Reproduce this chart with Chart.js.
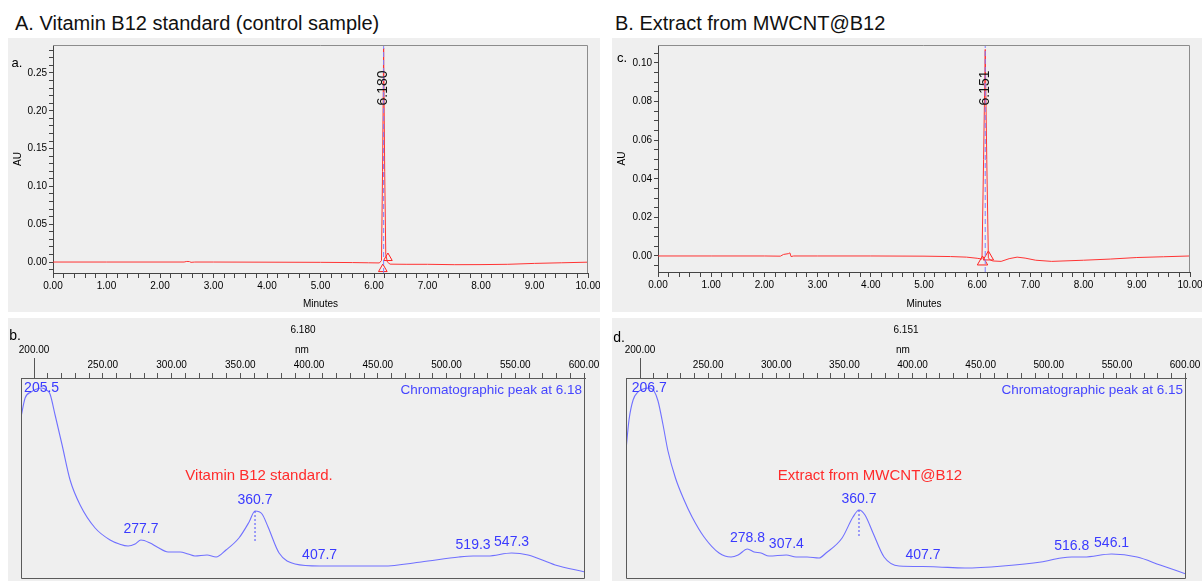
<!DOCTYPE html>
<html>
<head>
<meta charset="utf-8">
<script src="https://cdn.jsdelivr.net/npm/chart.js@4.4.1/dist/chart.umd.min.js"></script>
<style>
  body { margin: 0; background: #fff; width: 1202px; height: 581px; overflow: hidden; position: relative;
         font-family: "Liberation Sans", Arial, sans-serif; }
  .ttl { position: absolute; top: 13px; font-size: 20px; line-height: 20px; color: #111; white-space: nowrap; }
  .pnl { position: absolute; background: #efefef; }
  .pnl canvas { display: block; }
</style>
</head>
<body>
<div class="ttl" style="left:15px">A. Vitamin B12 standard (control sample)</div>
<div class="ttl" style="left:615px">B. Extract from MWCNT@B12</div>
<div class="pnl" style="left:8px;top:38px;width:592px;height:274px"><canvas id="chromA"></canvas></div>
<div class="pnl" style="left:612px;top:38px;width:590px;height:274px"><canvas id="chromC"></canvas></div>
<div class="pnl" style="left:8px;top:318px;width:592px;height:263px"><canvas id="specB"></canvas></div>
<div class="pnl" style="left:612px;top:318px;width:590px;height:263px"><canvas id="specD"></canvas></div>

<script>
// ---- chromatogram a (vitamin B12 standard) ----
var timeA = [0, 1.0, 2.0, 2.45, 2.5, 2.55, 2.58, 2.65, 3.0, 4.0, 5.0, 5.6, 5.9, 6.1, 6.14, 6.16, 6.18, 6.20, 6.22, 6.25, 6.3, 6.6, 7.0, 7.5, 8.0, 8.5, 9.0, 9.5, 10.0];
var auA = [0, 0, 0, 0, 0.0008, 0.0006, -0.0004, 0, 0, -0.0002, -0.0004, -0.0007, -0.001, -0.0012, 0.002, 0.12, 0.283, 0.12, 0.01, 0.0, -0.0028, -0.003, -0.003, -0.0035, -0.0034, -0.003, -0.0018, -0.001, -0.0002];
var rtA = 6.180;
var marksA = [[6.165, -0.0093], [6.26, 0.0053]]; // peak start / end triangles
var auTicksA = [0.00, 0.05, 0.10, 0.15, 0.20, 0.25];

// ---- chromatogram c (extract from MWCNT@B12) ----
var timeC = [0, 1.0, 2.0, 2.3, 2.36, 2.45, 2.48, 2.5, 2.55, 3.0, 4.0, 5.0, 5.5, 5.8, 6.0, 6.09, 6.12, 6.151, 6.18, 6.21, 6.25, 6.3, 6.45, 6.6, 6.75, 6.9, 7.1, 7.4, 8.0, 8.5, 9.0, 9.5, 10.0];
var auC = [0, 0, 0, -0.0001, 0.0008, 0.0012, 0.0016, -0.0003, 0, 0, 0, -0.0001, -0.0003, -0.0006, -0.0012, -0.0016, 0.05, 0.107, 0.05, -0.001, -0.0022, -0.0026, -0.0028, -0.0014, -0.0006, -0.0011, -0.0022, -0.0028, -0.0022, -0.0016, -0.0008, -0.0004, 0];
var rtC = 6.151;
var marksC = [[6.10, -0.0031], [6.21, -0.0005]];
var auTicksC = [0.00, 0.02, 0.04, 0.06, 0.08, 0.10];

var minuteTicks = [0, 1, 2, 3, 4, 5, 6, 7, 8, 9, 10];

// ---- UV spectrum b (peak at 6.180) ----
var nmB = [190.5, 193.5, 197.8, 202, 205.5, 209, 211.6, 215.3, 220.4, 226.2, 233.5, 244.4, 255.3, 262, 268.4, 273.5, 277.7, 284.4, 289.5, 297.5, 306.2, 312, 317, 325.8, 332.4, 339.6, 349, 356.4, 360.7, 365.8, 370.2, 378.2, 389.8, 407.7, 425.5, 453.8, 481.5, 509, 519.3, 530, 547.3, 559.3, 579, 600.7];
var absB = [164, 183, 189, 192, 193, 191, 187, 166, 136, 101, 76, 53, 41, 37, 35, 37, 41, 38, 34, 29, 29, 27, 25, 26, 24, 31, 43, 59, 70, 67, 54, 28, 17, 15, 15, 15, 19, 24, 25, 25, 28, 26, 16, 9];
var peaksB = [205.5, 277.7, 360.7, 407.7, 519.3, 547.3];
var dropB = 39;

// ---- UV spectrum d (peak at 6.151) ----
var nmD = [189.7, 191.9, 194.9, 198.5, 202.2, 206.7, 210.3, 213.2, 216.9, 220.5, 226, 232, 238.2, 247, 258, 266.8, 272, 278.8, 283.7, 288.8, 294.7, 307.4, 314.5, 322.6, 331.4, 336.5, 348.3, 356.3, 360.7, 365.1, 371, 379.1, 390.1, 407.7, 418.7, 438.5, 466.4, 494.3, 509, 516.8, 525.9, 546.1, 564.8, 581.7, 600.7];
var absD = [131, 161, 181, 189, 192, 193, 190, 180, 156, 130, 103, 82, 64, 44, 28, 24, 26, 32, 29, 28, 25, 26, 24, 24, 23, 28, 43, 64, 71, 66, 48, 24, 15, 14.5, 14, 13, 15, 19, 23, 24, 24, 27, 24, 16, 7];
var peaksD = [206.7, 278.8, 307.4, 360.7, 407.7, 516.8, 546.1];
var dropD = 43;

var nmTicks = [200, 250, 300, 350, 400, 450, 500, 550, 600];

var FONT = '"Liberation Sans", Arial, sans-serif';
Chart.defaults.font.family = FONT;
Chart.defaults.color = '#000';
Chart.defaults.animation = false;

function toPts(xs, ys) {
  return xs.map(function (x, i) { return { x: x, y: ys[i] }; });
}

function interp(xs, ys, x) {
  for (var i = 1; i < xs.length; i++) {
    if (x <= xs[i]) {
      var t = (x - xs[i - 1]) / (xs[i] - xs[i - 1]);
      return ys[i - 1] + t * (ys[i] - ys[i - 1]);
    }
  }
  return ys[ys.length - 1];
}

function subdivide(majors, n) {
  var out = [];
  for (var i = 0; i < majors.length - 1; i++) {
    var step = (majors[i + 1] - majors[i]) / n;
    for (var k = 0; k < n; k++) out.push(+(majors[i] + k * step).toFixed(6));
  }
  out.push(majors[majors.length - 1]);
  return out;
}

function isIn(list, v) {
  return list.some(function (m) { return Math.abs(m - v) < 1e-7; });
}

// box around plot area
var framePlugin = {
  id: 'frame',
  afterDraw: function (chart, args, opts) {
    var a = chart.chartArea, ctx = chart.ctx;
    ctx.save();
    ctx.strokeStyle = opts.color || '#888';
    ctx.lineWidth = 1;
    ctx.beginPath();
    if (opts.full) {
      ctx.rect(a.left + 0.5, a.top + 0.5, a.right - a.left - 1, a.bottom - a.top - 1);
    } else {
      ctx.moveTo(a.left, a.top + 0.5);
      ctx.lineTo(a.right - 0.5, a.top + 0.5);
      ctx.lineTo(a.right - 0.5, a.bottom);
    }
    ctx.stroke();
    if (opts.longTick !== undefined) {
      var x = Math.round(chart.scales.x.getPixelForValue(opts.longTick)) + 0.5;
      ctx.strokeStyle = '#555';
      ctx.beginPath();
      ctx.moveTo(x, a.top - 20);
      ctx.lineTo(x, a.top);
      ctx.stroke();
    }
    ctx.restore();
  }
};

// texts: fixed or tied to data values
var notesPlugin = {
  id: 'notes',
  afterDraw: function (chart, args, opts) {
    var ctx = chart.ctx, a = chart.chartArea;
    (opts.items || []).forEach(function (it) {
      var x = it.xv !== undefined ? chart.scales.x.getPixelForValue(it.xv) : it.x;
      var y = it.yv !== undefined ? chart.scales.y.getPixelForValue(it.yv) : it.y;
      if (it.fromTop !== undefined) y = a.top + it.fromTop;
      if (it.fromRight !== undefined) x = a.right - it.fromRight;
      x += it.dx || 0;
      y += it.dy || 0;
      if (it.minTop !== undefined) y = Math.max(y, a.top + it.minTop);
      ctx.save();
      ctx.translate(x, y);
      if (it.rot) ctx.rotate(it.rot);
      ctx.font = it.font;
      ctx.fillStyle = it.color || '#000';
      ctx.textAlign = it.align || 'center';
      ctx.textBaseline = 'middle';
      ctx.fillText(it.text, 0, 0);
      ctx.restore();
    });
  }
};

function chromatogram(id, c) {
  var minor = subdivide(minuteTicks, 5);
  var yMinor = subdivide([c.auTicks[0] - (c.auTicks[1] - c.auTicks[0])].concat(c.auTicks, [c.auTicks[c.auTicks.length - 1] + (c.auTicks[1] - c.auTicks[0])]), c.ySub)
    .filter(function (v) { return v >= c.yMin && v <= c.yMax; });
  new Chart(document.getElementById(id), {
    type: 'line',
    data: {
      datasets: [
        { data: [{ x: c.rt, y: c.yMin }, { x: c.rt, y: c.yMax }], borderColor: '#7f7fff', borderWidth: 1, borderDash: [5, 3], pointRadius: 0 },
        { data: toPts(c.time, c.au), borderColor: '#ff3333', borderWidth: 1, pointRadius: 0, tension: 0 },
        { data: c.marks.map(function (m) { return { x: m[0], y: m[1] }; }), showLine: false, pointStyle: 'triangle',
          pointRadius: c.triR, pointBorderColor: '#ff2020', pointBackgroundColor: 'rgba(0,0,0,0)', pointBorderWidth: 1 }
      ]
    },
    options: {
      responsive: true, maintainAspectRatio: false, animation: false,
      layout: { padding: { top: 7, right: 12, left: 0, bottom: 0 } },
      plugins: {
        legend: { display: false }, tooltip: { enabled: false },
        frame: { color: '#8c8c8c' },
        notes: { items: [
          { text: c.tag, x: c.tagX, y: c.tagY, font: '13px ' + FONT, align: 'center' },
          { text: c.rt.toFixed(3), xv: c.rt, y: 50, rot: -Math.PI / 2, font: '14px ' + FONT, color: '#111' }
        ] }
      },
      scales: {
        x: {
          type: 'linear', min: 0, max: 10,
          afterBuildTicks: function (s) { s.ticks = minor.map(function (v) { return { value: v }; }); },
          afterFit: function (s) { s.height = c.xH; s.paddingLeft = 0; s.paddingRight = 0; },
          ticks: { autoSkip: false, maxRotation: 0, padding: 2, font: { size: 10 },
                   callback: function (v) { return isIn(minuteTicks, v) ? v.toFixed(2) : ''; } },
          grid: { drawOnChartArea: false, tickLength: 5, tickColor: '#444' },
          border: { color: '#444' },
          title: { display: true, text: 'Minutes', font: { size: 10 }, padding: { top: 0, bottom: 2 } }
        },
        y: {
          type: 'linear', min: c.yMin, max: c.yMax,
          afterBuildTicks: function (s) { s.ticks = yMinor.map(function (v) { return { value: v }; }); },
          afterFit: function (s) { s.width = c.yW; s.paddingTop = 0; s.paddingBottom = 0; },
          ticks: { autoSkip: false, padding: 2, font: { size: 10 },
                   callback: function (v) { return isIn(c.auTicks, v) ? v.toFixed(2) : ''; } },
          grid: { drawOnChartArea: false, tickLength: 4, tickColor: '#444' },
          border: { color: '#444' },
          title: { display: true, text: 'AU', font: { size: 10 }, padding: { top: 4, bottom: 0 } }
        }
      }
    },
    plugins: [framePlugin, notesPlugin]
  });
}

function spectrum(id, c) {
  var minor = subdivide(nmTicks, 5);
  var items = [
    { text: c.tag, x: c.tagX, y: c.tagY, font: '14px ' + FONT },
    { text: c.rt.toFixed(3), x: c.rtX, fromTop: -48, font: '10px ' + FONT },
    { text: 'nm', x: c.nmX, fromTop: -28, font: '10px ' + FONT },
    { text: nmTicks[0].toFixed(2), xv: nmTicks[0], fromTop: -28, font: '10px ' + FONT },
    { text: 'Chromatographic peak at ' + c.rt.toFixed(2), fromRight: 3, fromTop: 12, align: 'right', font: '13.5px ' + FONT, color: '#4646ff' },
    { text: c.sample, x: c.sampleX, fromTop: 98, font: '15px ' + FONT, color: '#ff2b2b' }
  ];
  c.peaks.forEach(function (p) {
    items.push({ text: p.toFixed(1), xv: p, yv: interp(c.nm, c.abs, p), dy: -11, minTop: 10, font: '14px ' + FONT, color: '#3a3aff' });
  });
  var main = c.peaks[c.mainIdx];
  new Chart(document.getElementById(id), {
    type: 'line',
    data: {
      datasets: [
        { data: [{ x: main, y: interp(c.nm, c.abs, main) }, { x: main, y: c.drop }], borderColor: '#4a4aff', borderWidth: 1, borderDash: [2, 2], pointRadius: 0 },
        { data: toPts(c.nm, c.abs), borderColor: '#7070ff', borderWidth: 1.1, pointRadius: 0, cubicInterpolationMode: 'monotone' }
      ]
    },
    options: {
      responsive: true, maintainAspectRatio: false, animation: false,
      layout: { padding: { top: 0, right: c.padR, left: c.padL, bottom: 2 } },
      plugins: {
        legend: { display: false }, tooltip: { enabled: false },
        frame: { color: '#5a5a5a', full: true, longTick: nmTicks[0] },
        notes: { items: items }
      },
      scales: {
        x: {
          type: 'linear', position: 'top', min: c.xMin, max: c.xMax,
          afterBuildTicks: function (s) { s.ticks = minor.map(function (v) { return { value: v }; }); },
          afterFit: function (s) { s.height = 60; s.paddingLeft = 0; s.paddingRight = 0; },
          ticks: { autoSkip: false, maxRotation: 0, padding: 2, font: { size: 10 },
                   callback: function (v) { return (isIn(nmTicks, v) && v !== nmTicks[0]) ? v.toFixed(2) : ''; } },
          grid: { drawOnChartArea: false, tickLength: 5, tickColor: '#555' },
          border: { color: '#555' }
        },
        y: { display: false, min: 2, max: 203 }
      }
    },
    plugins: [framePlugin, notesPlugin]
  });
}

chromatogram('chromA', { time: timeA, au: auA, rt: rtA, marks: marksA, auTicks: auTicksA, ySub: 5,
  yMin: -0.0145, yMax: 0.287, yW: 45, xH: 39, triR: 5, tag: 'a.', tagX: 9, tagY: 25 });
chromatogram('chromC', { time: timeC, au: auC, rt: rtC, marks: marksC, auTicks: auTicksC, ySub: 4,
  yMin: -0.0083, yMax: 0.1093, yW: 46, xH: 40, triR: 6, tag: 'c.', tagX: 10, tagY: 20 });

spectrum('specB', { nm: nmB, abs: absB, peaks: peaksB, mainIdx: 2, drop: dropB, rt: 6.180,
  xMin: 190.5, xMax: 600.7, padL: 13, padR: 15, tag: 'b.', tagX: 7, tagY: 18, rtX: 295, nmX: 294,
  sample: 'Vitamin B12 standard.', sampleX: 251 });
spectrum('specD', { nm: nmD, abs: absD, peaks: peaksD, mainIdx: 3, drop: dropD, rt: 6.151,
  xMin: 189.7, xMax: 600.7, padL: 14, padR: 16, tag: 'd.', tagX: 7, tagY: 20, rtX: 294, nmX: 291,
  sample: 'Extract from MWCNT@B12', sampleX: 258 });
</script>
</body>
</html>
